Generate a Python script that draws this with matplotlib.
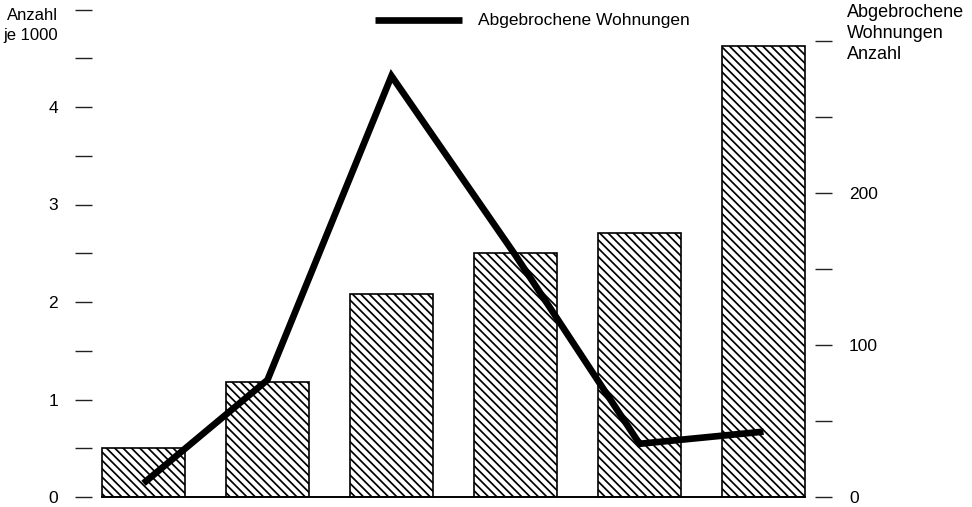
import matplotlib
matplotlib.use("Agg")
import matplotlib.pyplot as plt
from matplotlib.lines import Line2D
import numpy as np

plt.rcParams['font.family'] = ['Liberation Sans', 'DejaVu Sans']
plt.rcParams['hatch.linewidth'] = 1.25

# data
bar_values = [0.5, 1.18, 2.08, 2.5, 2.71, 4.63]          # Anzahl je 1000 (left axis)
line_values = [9, 77, 277, 159, 35, 43]                   # Abgebrochene Wohnungen, Anzahl (right axis)
left_ticks = [0, 0.5, 1, 1.5, 2, 2.5, 3, 3.5, 4, 4.5, 5]
left_ticklabels = ['0', '', '1', '', '2', '', '3', '', '4', '', '']
right_ticks = [0, 50, 100, 150, 200, 250, 300]
right_ticklabels = ['0', '', '100', '', '200', '', '']

BS = chr(92)

fig = plt.figure(figsize=(9.72, 5.07), dpi=100)
ax = fig.add_axes([92/972, 1-497/507, (815-92)/972, (497-9.5)/507])
x = np.arange(len(bar_values))
ax.bar(x, bar_values, width=0.67, facecolor='white', edgecolor='black',
       hatch=BS*4, linewidth=1.2, zorder=2)
ax.set_xlim(-0.415, 5.415)
ax.set_ylim(0, 5)
ax.plot([-0.335, 5.335], [0, 0], color='black', lw=1.4, zorder=3, clip_on=False)

for s in ax.spines.values():
    s.set_visible(False)
ax.set_xticks([])
ax.set_yticks(left_ticks)
ax.set_yticklabels(left_ticklabels)
ax.tick_params(axis='y', direction='out', length=12.5, width=1.0, pad=12,
               labelsize=12.5, color='#222222')

ax2 = ax.twinx()
for s in ax2.spines.values():
    s.set_visible(False)
ax2.set_ylim(0, 487.5/1.52)
ax2.set_yticks(right_ticks)
ax2.set_yticklabels(right_ticklabels)
ax2.tick_params(axis='y', direction='out', length=12.5, width=1.0, pad=12,
                labelsize=12.5, color='#222222')
ax2.plot(x, line_values, color='black', lw=4.8, solid_joinstyle='miter',
         solid_capstyle='butt', zorder=4)

fig.text(58/972, 1-8/507, 'Anzahl\nje 1000', ha='right', va='top', fontsize=12,
         linespacing=1.4)
fig.text(847/972, 1-4/507, 'Abgebrochene\nWohnungen\nAnzahl', ha='left', va='top',
         fontsize=13, linespacing=1.32)

# legend
fig.add_artist(Line2D([375/972, 462/972], [1-20/507, 1-20/507], color='black', lw=4.8,
                      solid_capstyle='butt'))
fig.text(478/972, 1-20/507, 'Abgebrochene Wohnungen', ha='left', va='center', fontsize=12.5)

fig.savefig('out.png', dpi=100)
